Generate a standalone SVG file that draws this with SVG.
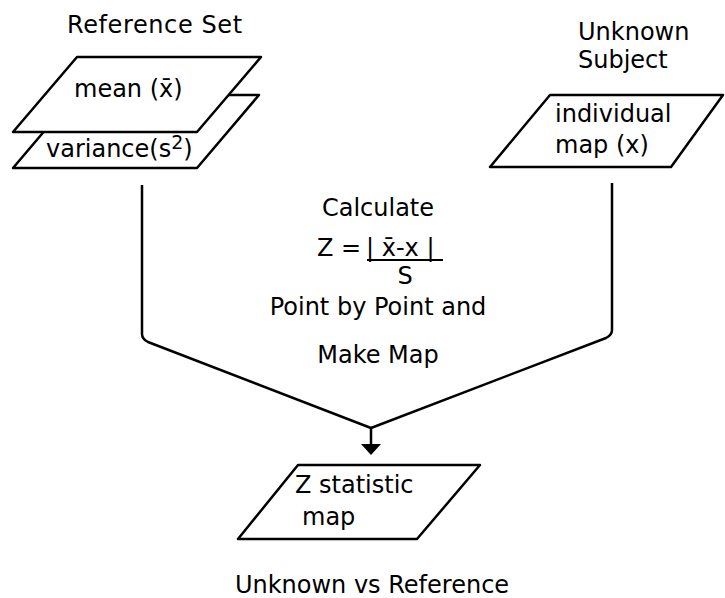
<svg xmlns="http://www.w3.org/2000/svg" width="725" height="598" viewBox="0 0 725 598">
  <style>
    text { font-family: "DejaVu Sans", "Liberation Sans", sans-serif; font-size: 24px; fill: #000; }
    .box { fill: #fff; stroke: #000; stroke-width: 2.5; stroke-linejoin: round; }
    .wire { fill: none; stroke: #000; stroke-width: 2.5; stroke-linejoin: round; }
  </style>
  <rect width="725" height="598" fill="#fff"/>

  <!-- headings -->
  <text x="67" y="33" letter-spacing="0.6">Reference Set</text>
  <text x="578" y="40">Unknown</text>
  <text x="578" y="68">Subject</text>

  <!-- reference set: variance sheet behind the mean sheet -->
  <g id="variance">
    <polygon class="box" points="75,95 259,95 197,168 13,168"/>
    <text x="46" y="157">variance(s<tspan dy="-8" font-size="19">2</tspan><tspan dy="8">)</tspan></text>
  </g>
  <g id="mean">
    <polygon class="box" points="77,57 261,57 197,132 13,132"/>
    <text x="74" y="97">mean (x̄)</text>
  </g>

  <!-- unknown subject -->
  <g id="individual-map">
    <polygon class="box" points="550,95 723,95 671,167 490,167"/>
    <text x="555" y="122">individual</text>
    <text x="555" y="153">map (x)</text>
  </g>

  <!-- calculation step -->
  <g id="calculate">
    <text x="378" y="216" text-anchor="middle">Calculate</text>
    <text x="317" y="256">Z = </text>
    <text x="366" y="256">| x̄-x |</text>
    <line x1="367" y1="260" x2="443" y2="260" stroke="#000" stroke-width="2"/>
    <text x="405" y="284" text-anchor="middle" font-size="20">S</text>
    <text x="378" y="315" text-anchor="middle">Point by Point and</text>
    <text x="378" y="363" text-anchor="middle">Make Map</text>
  </g>

  <!-- connectors -->
  <g id="connectors">
    <path class="wire" d="M142,185 V334 Q142,339 148,342 L371,428"/>
    <path class="wire" d="M612,183 V330 Q612,335 606,338 L371,428"/>
    <line x1="371" y1="428" x2="371" y2="445" stroke="#000" stroke-width="2.5"/>
    <polygon points="361,444 381,444 371,455" fill="#000"/>
  </g>

  <!-- result -->
  <g id="z-map">
    <polygon class="box" points="298,465 480,465 417,539 238,539"/>
    <text x="295" y="493">Z statistic</text>
    <text x="302" y="525">map</text>
  </g>

  <text x="372" y="593" text-anchor="middle">Unknown vs Reference</text>
</svg>
